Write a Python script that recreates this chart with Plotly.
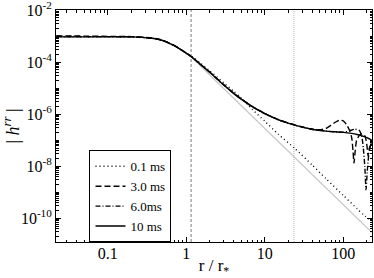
import plotly.graph_objects as go

# ---------------- data ----------------
# shared inner radii (r / r_*)
r_inner = [0.022, 0.05, 0.1, 0.2, 0.3, 0.4, 0.5, 0.6, 0.7, 0.8, 1.0, 1.2, 1.5, 2.0, 3.0, 4.0, 5.0, 7.0, 10.0, 15.0, 24.0]

# log10 |h^rr| values
log_h_01ms_inner = [-3.03, -3.03, -3.03, -3.03, -3.06, -3.10, -3.17, -3.27, -3.37, -3.47, -3.65, -3.80, -4.04, -4.34, -4.80, -5.12, -5.38, -5.83, -6.27, -6.78, -7.31]
r_01ms_outer = [40.0, 60.0, 100.0, 150.0, 190.0, 232.0]
log_h_01ms_outer = [-7.95, -8.47, -9.12, -9.63, -9.92, -10.10]

log_h_10ms_inner = [-3.03, -3.03, -3.03, -3.03, -3.06, -3.10, -3.17, -3.27, -3.37, -3.47, -3.66, -3.83, -4.08, -4.40, -4.88, -5.20, -5.42, -5.72, -5.98, -6.22, -6.42]
r_10ms_outer = [40.0, 60.0, 100.0, 150.0, 200.0, 232.0]
log_h_10ms_outer = [-6.58, -6.65, -6.70, -6.78, -6.90, -7.00]

log_h_3ms_inner = [-2.99, -3.00, -3.01, -3.02, -3.05, -3.09, -3.16, -3.26, -3.36, -3.46, -3.65, -3.82, -4.07, -4.39, -4.87, -5.19, -5.41, -5.71, -5.97, -6.21, -6.41]
r_3ms_outer = [40.0, 50.0, 60.0, 70.0, 80.0, 90.0, 100.0, 110.0, 120.0, 128.0, 133.0, 137.0, 142.0, 148.0, 160.0, 175.0, 190.0, 200.0, 207.0, 215.0, 232.0]
log_h_3ms_outer = [-6.58, -6.60, -6.55, -6.42, -6.30, -6.23, -6.26, -6.40, -6.62, -6.90, -7.40, -7.88, -7.40, -7.00, -6.82, -6.75, -6.85, -7.20, -7.60, -7.30, -7.10]

log_h_6ms_inner = [-3.01, -3.02, -3.02, -3.03, -3.06, -3.10, -3.17, -3.27, -3.37, -3.47, -3.66, -3.83, -4.08, -4.40, -4.88, -5.20, -5.42, -5.72, -5.98, -6.22, -6.42]
r_6ms_outer = [40.0, 60.0, 100.0, 120.0, 140.0, 160.0, 172.0, 180.0, 188.0, 195.0, 202.0, 212.0, 222.0, 232.0]
log_h_6ms_outer = [-6.58, -6.65, -6.69, -6.64, -6.58, -6.62, -6.85, -7.30, -8.00, -8.90, -8.20, -7.50, -7.20, -7.05]

# r^-3-like reference (light grey)
r_ref = [1.2, 232.0]
log_h_ref = [-3.85, -10.55]

# vertical marker radii
r_marker_dark = 1.15
r_marker_light = 23.5

labels = ["0.1 ms", "3.0 ms", "6.0ms", "10 ms"]

x_ticks = [0.1, 1, 10, 100]
x_ticktext = ["0.1", "1", "10", "100"]
y_tick_exp = [-10, -8, -6, -4, -2]

x_range_log = [-1.661, 2.366]
y_range_log = [-10.91, -1.998]

# ---------------- figure ----------------
def pw(vals):
    return [10 ** v for v in vals]

fig = go.Figure()

y_lo, y_hi = 10 ** y_range_log[0], 10 ** y_range_log[1]
fig.add_trace(go.Scatter(x=[r_marker_dark, r_marker_dark], y=[y_lo, y_hi], mode="lines",
                         line=dict(color="#7a7a7a", width=1, dash="3px,2px"), showlegend=False, hoverinfo="skip"))
fig.add_trace(go.Scatter(x=[r_marker_light, r_marker_light], y=[y_lo, y_hi], mode="lines",
                         line=dict(color="#b4b4b4", width=1, dash="1px,1px"), showlegend=False, hoverinfo="skip"))
fig.add_trace(go.Scatter(x=r_ref, y=pw(log_h_ref), mode="lines",
                         line=dict(color="#c8c8c8", width=1.3), showlegend=False, hoverinfo="skip"))

series = [
    (labels[0], r_inner + r_01ms_outer, log_h_01ms_inner + log_h_01ms_outer, "1px,3px"),
    (labels[1], r_inner + r_3ms_outer, log_h_3ms_inner + log_h_3ms_outer, "6px,3px"),
    (labels[2], r_inner + r_6ms_outer, log_h_6ms_inner + log_h_6ms_outer, "5px,2px,1px,2px"),
    (labels[3], r_inner + r_10ms_outer, log_h_10ms_inner + log_h_10ms_outer, "solid"),
]
for name, rr, lh, dash in series:
    fig.add_trace(go.Scatter(x=rr, y=pw(lh), mode="lines", name=name,
                             line=dict(color="black", width=1.4, dash=dash, shape="spline", smoothing=0.6)))

font_family = "Liberation Serif"
axis_common = dict(
    type="log", showline=True, linecolor="black", linewidth=1, mirror="ticks",
    ticks="inside", ticklen=5, tickwidth=1, tickcolor="black", showgrid=False, zeroline=False,
    automargin=False, ticklabeloverflow="allow",
    minor=dict(ticks="inside", ticklen=2.5, tickcolor="black", tickwidth=1, dtick="D1", showgrid=False),
    tickfont=dict(family=font_family, size=16, color="black"),
)

fig.update_xaxes(range=x_range_log, tickvals=x_ticks, ticktext=x_ticktext, ticklabelstandoff=-3,
                 title=dict(text="r / r<sub>*</sub>", font=dict(family=font_family, size=17, color="black"), standoff=0),
                 **axis_common)
fig.update_yaxes(range=y_range_log, tickvals=[10 ** e for e in y_tick_exp],
                 ticktext=["10<sup>%d</sup>" % e for e in y_tick_exp], ticklabelstandoff=0,
                 title=dict(text="| <i>h</i><sup><i>rr</i></sup> |", font=dict(family=font_family, size=18, color="black"), standoff=2),
                 **axis_common)

fig.update_layout(
    width=374, height=278,
    margin=dict(l=56, r=2, t=10, b=36),
    paper_bgcolor="white", plot_bgcolor="white",
    font=dict(family=font_family, size=14, color="black"),
    legend=dict(x=0.106, y=0.395, xanchor="left", yanchor="top", bgcolor="white",
                bordercolor="black", borderwidth=1, font=dict(family=font_family, size=13, color="black"),
                tracegroupgap=0, itemwidth=30),
)

fig.write_html("out.html", config={"displayModeBar": False},
               post_script="document.body.style.margin='0';document.body.style.padding='0';")
